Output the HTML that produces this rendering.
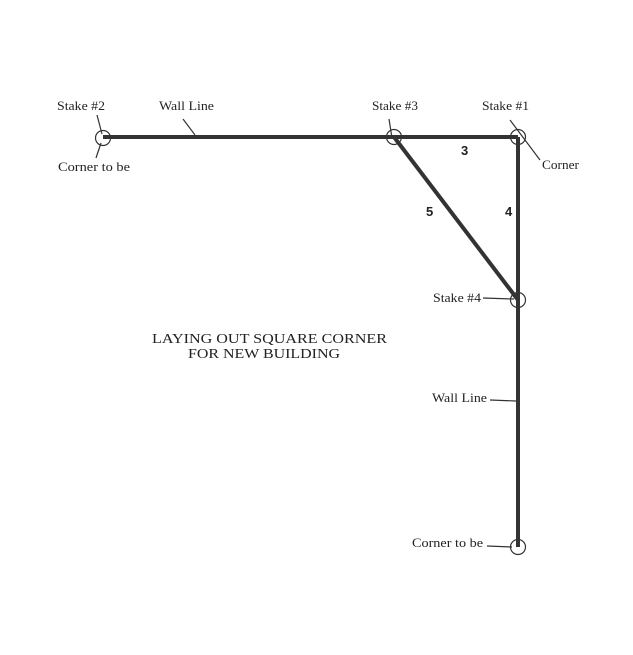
<!DOCTYPE html>
<html><head><style>
html,body{margin:0;padding:0;background:#fff;}
svg{display:block;}
text{font-family:"Liberation Serif",serif;fill:#222;}
</style></head><body>
<svg width="633" height="655" viewBox="0 0 633 655" xmlns="http://www.w3.org/2000/svg">
<g stroke="#333" stroke-width="4" fill="none" stroke-linecap="butt">
<line x1="103" y1="137" x2="518" y2="137"/>
<line x1="518" y1="137" x2="518" y2="547"/>
<line x1="394" y1="137" x2="518" y2="300"/>
</g>
<g stroke="#333" stroke-width="1.2" fill="none">
<circle cx="103" cy="138" r="7.5"/>
<circle cx="394" cy="137" r="7.5"/>
<circle cx="518" cy="137" r="7.5"/>
<circle cx="518" cy="300" r="7.5"/>
<circle cx="518" cy="547" r="7.5"/>
<line x1="97" y1="115" x2="102" y2="134"/>
<line x1="101" y1="143" x2="96" y2="158"/>
<line x1="183" y1="119" x2="195" y2="135"/>
<line x1="389" y1="119" x2="392" y2="138"/>
<line x1="510" y1="120" x2="540" y2="160"/>
<line x1="483" y1="298" x2="514" y2="299"/>
<line x1="490" y1="400" x2="516" y2="401"/>
<line x1="487" y1="546" x2="512" y2="547"/>
</g>
<g font-size="13">
<text x="57" y="110" textLength="48" lengthAdjust="spacingAndGlyphs">Stake #2</text>
<text x="159" y="110" textLength="55" lengthAdjust="spacingAndGlyphs">Wall Line</text>
<text x="372" y="110" textLength="46" lengthAdjust="spacingAndGlyphs">Stake #3</text>
<text x="482" y="110" textLength="47" lengthAdjust="spacingAndGlyphs">Stake #1</text>
<text x="58" y="171" textLength="72" lengthAdjust="spacingAndGlyphs">Corner to be</text>
<text x="542" y="169" textLength="37" lengthAdjust="spacingAndGlyphs">Corner</text>
<text x="433" y="302" textLength="48" lengthAdjust="spacingAndGlyphs">Stake #4</text>
<text x="432" y="402" textLength="55" lengthAdjust="spacingAndGlyphs">Wall Line</text>
<text x="412" y="547" textLength="71" lengthAdjust="spacingAndGlyphs">Corner to be</text>
</g>
<g font-size="13" font-weight="bold">
<text x="461" y="155" style="font-family:'Liberation Sans',sans-serif">3</text>
<text x="426" y="216" style="font-family:'Liberation Sans',sans-serif">5</text>
<text x="505" y="216" style="font-family:'Liberation Sans',sans-serif">4</text>
</g>
<g font-size="14">
<text x="152" y="343" textLength="235" lengthAdjust="spacingAndGlyphs">LAYING OUT SQUARE CORNER</text>
<text x="188" y="358" textLength="152" lengthAdjust="spacingAndGlyphs">FOR NEW BUILDING</text>
</g>
</svg>
</body></html>
